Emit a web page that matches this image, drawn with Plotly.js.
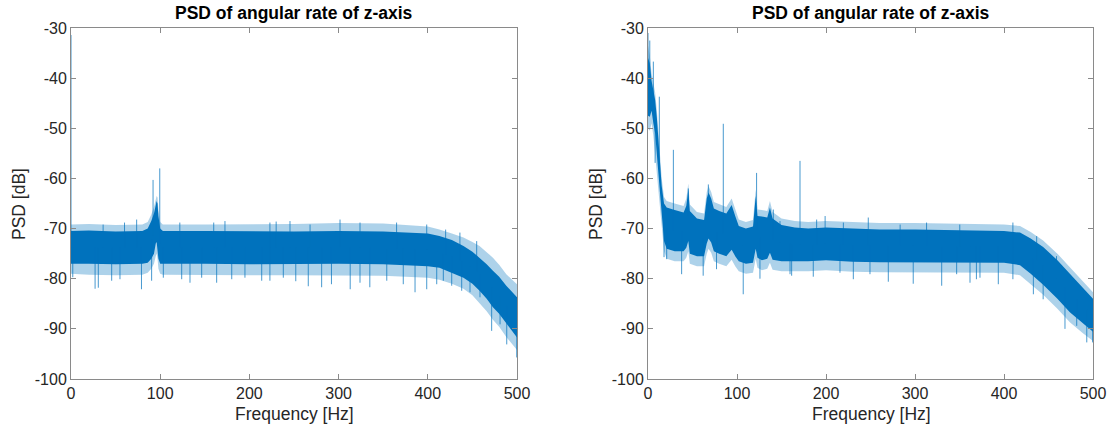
<!DOCTYPE html>
<html>
<head>
<meta charset="utf-8">
<script src="https://cdn.plot.ly/plotly-3.0.1.min.js"></script>
<style>
  html, body { margin: 0; padding: 0; background: #fff; }
  #chart { width: 1112px; height: 430px; }
</style>
</head>
<body>
<div id="chart"></div>
<script>
// ---------------- Data ----------------
const titleText = "PSD of angular rate of z-axis";
const xTitle = "Frequency [Hz]";
const yTitle = "PSD [dB]";
const xTicks = [0, 100, 200, 300, 400, 500];
const xTickText = ["0", "100", "200", "300", "400", "500"];
const yTicks = [-100, -90, -80, -70, -60, -50, -40, -30];
const yTickText = ["-100", "-90", "-80", "-70", "-60", "-50", "-40", "-30"];

// Left panel: envelope of the dense noise band
const freqL    = [0, 20, 50, 80, 86, 90, 93, 95, 96, 97, 98, 100, 103, 150, 200, 250, 300, 350, 400, 413, 427, 440, 450, 458, 466, 473, 480, 488, 494, 500];
const coreTopL = [-70.5, -70.4, -70.6, -70.5, -70, -68.5, -67, -65.5, -64.5, -65, -67.5, -70, -70.5, -70.5, -70.6, -70.6, -70.5, -70.6, -71, -71.5, -72.3, -73.5, -74.6, -75.8, -77.1, -78.4, -79.6, -81.4, -82.5, -83.7];
const coreBotL = [-77, -77, -77.1, -77, -76.8, -76, -75, -73, -72.7, -74, -76, -77, -77, -77, -77.1, -77.1, -77, -77.1, -77.5, -77.8, -78.8, -79.8, -81, -82.4, -84, -85.7, -87, -89, -90.3, -91.7];
const haloTopL = [-69.2, -69.1, -69.3, -69.2, -68.7, -67.2, -65.7, -64.2, -63.5, -63.8, -66.2, -68.7, -69.2, -69.2, -69.2, -69.1, -68.9, -69, -69.6, -70.2, -71, -71.8, -72.7, -73.5, -74.7, -75.8, -77.2, -79.1, -80.1, -81.1];
const haloBotL = [-79, -79.2, -79.3, -79.2, -78.8, -78, -77, -75.5, -75, -76, -78, -79, -79.2, -79.2, -79.3, -79.3, -79.3, -79.4, -79.8, -80.2, -81, -82, -83.3, -84.8, -86.5, -88.2, -89.6, -91.6, -93, -94.2];
// Left panel: isolated peaks and dips
const spikeFreqL = [0, 92, 99.5, 36, 60, 73.6, 122, 160, 172.6, 223, 230, 245.5, 268, 301.6, 324, 365, 398.8, 420, 436, 454.8];
const spikeValL  = [-31.4, -60.3, -58, -69.2, -68.8, -68.2, -68.8, -68.8, -68.5, -68.8, -68.6, -68.5, -69.2, -68.2, -68.8, -68.8, -69.2, -70.2, -70.8, -72.5];
const dipFreqL = [2, 27, 30.6, 45.6, 54.9, 79, 90.4, 103.5, 124.1, 133.4, 146.5, 163.3, 180.2, 195, 213.8, 223, 238, 252, 266, 281, 292, 313, 324, 335, 354, 372.5, 385.7, 398.8, 410, 417.4, 426.8, 438, 447.3, 458.5, 471.6, 481, 488.5, 499.7];
const dipValL  = [-79.7, -82, -81.8, -80.4, -80.1, -82.1, -80.4, -79.8, -80.1, -80.8, -79.8, -80.8, -80.1, -79.8, -80.4, -80.4, -79.8, -80.5, -81.5, -81.7, -81.1, -82.1, -80.8, -81.7, -80.4, -81.1, -82.7, -82.1, -81.1, -80.4, -81.4, -82.4, -82.7, -83.7, -90.4, -89.1, -93.1, -95.7];

// Right panel: envelope of the dense noise band
const freqR    = [0, 2, 4, 6, 8, 10, 12.7, 15.4, 18, 21, 30, 40, 43, 45.3, 47, 55, 63, 66, 68, 71, 74, 80, 88, 94, 98, 102, 110, 118, 121, 123, 128, 134, 137, 140, 150, 165, 180, 200, 230, 260, 300, 350, 400, 418, 430, 444, 460, 474, 488, 500];
const coreTopR = [-36, -37, -40.5, -42.5, -44.3, -48, -55, -61.5, -65, -65.8,
                  -66.3, -66.8, -65.5, -62.2, -66.5, -68, -68.3, -64, -62.8, -64,
                  -66, -66.5, -67, -65.3, -67.5, -69.5, -70, -69.6, -63.5, -67.5,
                  -67.6, -67.8, -65.8, -68, -69.3, -69.8, -70, -69.8, -70, -70.2,
                  -70.2, -70.3, -70.5, -70.8, -72, -73.7, -76.3, -79, -81.8, -84];
const coreBotR = [-47.5, -47.7, -46.5, -49, -51, -55.5, -61.5, -67, -72.5, -74,
                  -74.5, -74.5, -73.8, -72.5, -75, -75.5, -75.5, -73, -72, -72.8,
                  -74.5, -75, -75.5, -74.2, -75.5, -76.5, -77, -76.8, -74, -75.8,
                  -76.3, -76, -74.8, -76.2, -76.5, -76.5, -76.5, -76.3, -76.6, -76.7,
                  -76.7, -76.8, -76.8, -77.3, -79, -81.2, -84, -86.7, -88.8, -90.6];
const haloTopR = [-33.5, -35.5, -39, -41, -42.8, -46.5, -53.5, -60, -63.7, -64.5,
                  -65, -65.5, -64, -61, -65.2, -66.7, -67, -62.7, -61.5, -62.7,
                  -64.7, -65.2, -65.7, -64, -66.2, -68.2, -68.7, -68.3, -62.2, -66.2,
                  -66.3, -66.5, -64.5, -66.7, -68, -68.5, -68.7, -68.5, -68.7, -68.9,
                  -68.9, -69, -69.2, -69.5, -70.7, -72.4, -75, -77.7, -80.5, -82.7];
const haloBotR = [-50, -50.5, -49, -51.5, -54, -58, -64, -69.5, -74.5, -76,
                  -76.5, -76.5, -75.8, -74.5, -77, -77.5, -77.5, -75, -74, -74.8,
                  -76.5, -77, -77.5, -76.2, -77.5, -78.5, -79, -78.8, -76, -77.8,
                  -78.3, -78, -76.8, -78.2, -78.5, -78.5, -78.5, -78.3, -78.6, -78.7,
                  -78.7, -78.8, -78.8, -79.3, -81, -83.2, -86, -88.7, -90.8, -92.4];
// Right panel: isolated peaks and dips
const spikeFreqR = [0, 2, 6, 12.7, 28.5, 45.3, 67.8, 84.6, 122, 140.8, 148.3, 170.8, 189.5, 199, 219.5, 247.5, 283.3, 313, 350.3, 410, 436.7, 459];
const spikeValR  = [-31, -32.5, -36.7, -43.7, -54.3, -62, -61.2, -49.1, -58.9, -66.2, -68.5, -56.5, -68.2, -67.5, -68.8, -67.8, -69.2, -68.8, -69.2, -68.8, -71.5, -75.5];
const dipFreqR = [8, 18, 21, 37.8, 62, 77, 107, 125.8, 159.6, 161.4, 185.7, 215.7, 230.7, 249.4, 270, 298, 330, 346.8, 361.8, 369, 373, 393.6, 410, 433, 444, 468.5, 481.7, 493, 499.6];
const dipValR  = [-56.9, -75.7, -76.1, -79.1, -79.4, -78.1, -83.1, -80, -79.1, -79.4, -79.6, -78.8, -80.1, -79.1, -80.6, -81, -81.4, -79.1, -80.8, -80.1, -79.8, -81.1, -80.1, -83.1, -84.1, -90, -89.4, -92.7, -92.7];

// ---------------- Helpers ----------------
const BLUE = '#0072BD';
function bandTrace(freq, top, bot, color, xa, ya) {
  return {
    type: 'scatter', mode: 'lines', xaxis: xa, yaxis: ya,
    x: freq.concat(freq.slice().reverse()),
    y: top.concat(bot.slice().reverse()),
    fill: 'toself', fillcolor: color, line: { width: 0, color: color },
    hoverinfo: 'skip', showlegend: false
  };
}
function coreMid(freq, top, bot, f) {
  for (let i = 0; i < freq.length - 1; i++) {
    if (f >= freq[i] && f <= freq[i + 1]) {
      const t = (f - freq[i]) / (freq[i + 1] - freq[i] || 1);
      return ((top[i] + bot[i]) / 2) * (1 - t) + ((top[i + 1] + bot[i + 1]) / 2) * t;
    }
  }
  return (top[top.length - 1] + bot[bot.length - 1]) / 2;
}
function stickTrace(fs, vs, freq, top, bot, color, xa, ya) {
  const x = [], y = [];
  fs.forEach((f, i) => {
    x.push(f, f, null);
    y.push(coreMid(freq, top, bot, f), vs[i], null);
  });
  return {
    type: 'scatter', mode: 'lines', xaxis: xa, yaxis: ya, x: x, y: y,
    line: { width: 1, color: color }, hoverinfo: 'skip', showlegend: false,
    connectgaps: false
  };
}

const HALO = 'rgba(0,114,189,0.32)';
const STICK = 'rgba(0,114,189,0.72)';
const traces = [
  bandTrace(freqL, haloTopL, haloBotL, HALO, 'x', 'y'),
  bandTrace(freqL, coreTopL, coreBotL, BLUE, 'x', 'y'),
  stickTrace(dipFreqL, dipValL, freqL, coreTopL, coreBotL, STICK, 'x', 'y'),
  stickTrace(spikeFreqL, spikeValL, freqL, coreTopL, coreBotL, STICK, 'x', 'y'),
  bandTrace(freqR, haloTopR, haloBotR, HALO, 'x2', 'y2'),
  bandTrace(freqR, coreTopR, coreBotR, BLUE, 'x2', 'y2'),
  stickTrace(dipFreqR, dipValR, freqR, coreTopR, coreBotR, STICK, 'x2', 'y2'),
  stickTrace(spikeFreqR, spikeValR, freqR, coreTopR, coreBotR, STICK, 'x2', 'y2')
];

const W = 1112, H = 430;
const FONT = 'Liberation Sans, Arial, Helvetica, sans-serif';
const TXT = '#262626';
const AXC = '#8a8a8a';
function xAxis(domain, anchor) {
  return {
    domain: domain, anchor: anchor, range: [0, 500], tickvals: xTicks, ticktext: xTickText,
    ticks: 'inside', ticklen: 5, tickwidth: 1, tickcolor: AXC,
    showline: true, linecolor: AXC, linewidth: 1, mirror: 'ticks',
    showgrid: false, zeroline: false, fixedrange: true, automargin: false,
    tickfont: { family: FONT, size: 16, color: TXT }
  };
}
function yAxis(anchor) {
  return {
    domain: [1 - 379 / H, 1 - 28 / H], anchor: anchor, range: [-100, -30], tickvals: yTicks, ticktext: yTickText,
    ticks: 'inside', ticklen: 5, tickwidth: 1, tickcolor: AXC,
    showline: true, linecolor: AXC, linewidth: 1, mirror: 'ticks',
    showgrid: false, zeroline: false, fixedrange: true, automargin: false,
    tickfont: { family: FONT, size: 16, color: TXT }
  };
}
function ann(text, xpx, ypx, size, bold, angle) {
  return {
    xref: 'paper', yref: 'paper', x: xpx / W, y: 1 - ypx / H,
    xanchor: 'center', yanchor: 'middle', showarrow: false,
    text: bold ? '<b>' + text + '</b>' : text, textangle: angle || 0,
    font: { family: FONT, size: size, color: bold ? '#000' : TXT }
  };
}

const layout = {
  width: W, height: H,
  margin: { l: 0, r: 0, t: 0, b: 0, pad: 0 },
  paper_bgcolor: '#fff', plot_bgcolor: '#fff',
  showlegend: false,
  xaxis: xAxis([71 / W, 517 / W], 'y'),
  yaxis: yAxis('x'),
  xaxis2: xAxis([648 / W, 1093 / W], 'y2'),
  yaxis2: yAxis('x2'),
  annotations: [
    ann(titleText, 294, 13, 17.5, true),
    ann(titleText, 871, 13, 17.5, true),
    ann(xTitle, 294, 414, 17.5, false),
    ann(xTitle, 871, 414, 17.5, false),
    ann(yTitle, 19, 204, 17.5, false, -90),
    ann(yTitle, 596, 204, 17.5, false, -90)
  ]
};

Plotly.newPlot('chart', traces, layout, { displayModeBar: false, staticPlot: true });
</script>
</body>
</html>
